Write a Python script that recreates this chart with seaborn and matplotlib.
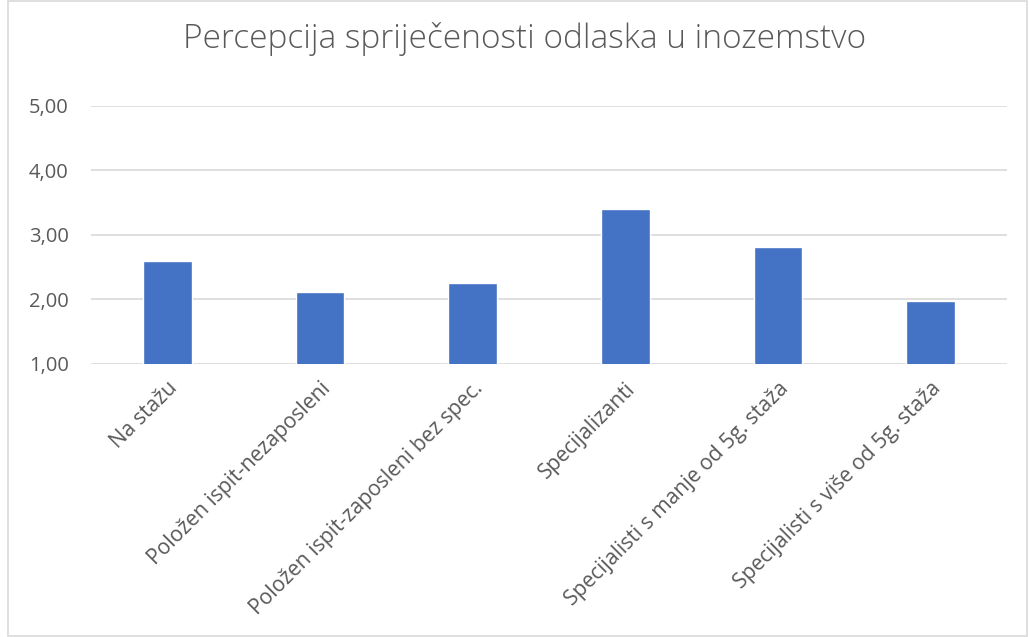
import matplotlib
matplotlib.use("Agg")
import matplotlib.pyplot as plt
import seaborn as sns
import pandas as pd
from matplotlib.patches import Rectangle

# data
categories = [
    "Na stažu",
    "Položen ispit-nezaposleni",
    "Položen ispit-zaposleni bez spec.",
    "Specijalizanti",
    "Specijalisti s manje od 5g. staža",
    "Specijalisti s više od 5g. staža",
]
values = [2.60, 2.12, 2.25, 3.40, 2.82, 1.97]
y_ticks = [1, 2, 3, 4, 5]

df = pd.DataFrame({"kategorija": categories, "vrijednost": values})

sns.set_style("white")
plt.rcParams["font.family"] = ["Open Sans", "DejaVu Sans"]

grey = "#595959"
fig = plt.figure(figsize=(10.29, 6.37), dpi=100)
ax = fig.add_axes([0.0884, 0.4286, 0.8902, 0.405])

sns.barplot(data=df, x="kategorija", y="vrijednost", color="#4472C4",
            width=0.32, saturation=1, ax=ax, zorder=3)

ax.set_ylim(1, 5)
ax.set_yticks(y_ticks)
ax.set_yticklabels([f"{t:.2f}".replace(".", ",") for t in y_ticks],
                   fontsize=14.5, color=grey)
ax.set_xticks(range(len(categories)))
ax.set_xticklabels(categories, rotation=45, ha="right", rotation_mode="anchor",
                   fontsize=15.2, color=grey)
ax.tick_params(axis="x", length=0, pad=10)
ax.tick_params(axis="y", length=0, pad=16)
ax.yaxis.grid(True, color="#d9d9d9", linewidth=1.2, zorder=0)
ax.set_axisbelow(True)
ax.set_xlabel("")
ax.set_ylabel("")
sns.despine(ax=ax, left=True, bottom=True)

fig.suptitle("Percepcija spriječenosti odlaska u inozemstvo", x=0.51, y=0.965,
             fontsize=24, color=grey, fontweight="light")

# outer chart border
fig.patches.append(Rectangle((0.008, 0.002), 0.99, 0.996, transform=fig.transFigure,
                             fill=False, edgecolor="#d9d9d9", linewidth=1.2))

fig.savefig("out.png", dpi=100)
